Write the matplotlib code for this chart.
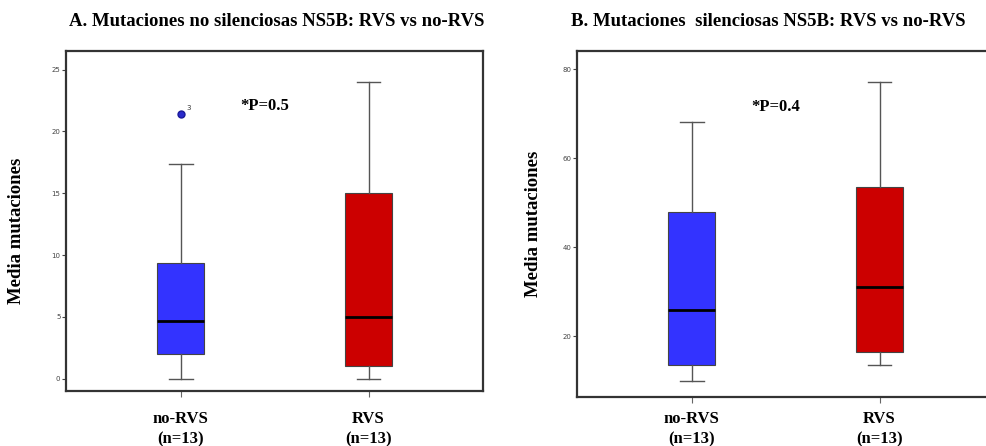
import matplotlib
matplotlib.use("Agg")
import matplotlib.pyplot as plt

# datos (mediana, cuartiles, bigotes)
grupos = ["no-RVS\n(n=13)", "RVS\n(n=13)"]
colores = ["#3333ff", "#cc0000"]

# A. mutaciones no silenciosas
a_whislo = [0.0, 0.0]
a_q1 = [2.0, 1.0]
a_med = [4.7, 5.0]
a_q3 = [9.35, 15.0]
a_whishi = [17.4, 24.0]
a_fliers = [[21.4], []]
a_flier_ids = [["3"], []]

# B. mutaciones silenciosas
b_whislo = [10.0, 13.5]
b_q1 = [13.4, 16.5]
b_med = [25.8, 31.0]
b_q3 = [48.0, 53.6]
b_whishi = [68.2, 77.1]
b_fliers = [[], []]
b_flier_ids = [[], []]

titulos = ["A. Mutaciones no silenciosas NS5B: RVS vs no-RVS",
           "B. Mutaciones  silenciosas NS5B: RVS vs no-RVS"]
pvalores = ["*P=0.5", "*P=0.4"]

serif = "Liberation Serif"

fig = plt.figure(figsize=[9.87, 4.46], dpi=100, facecolor="white")
ax1 = fig.add_axes([66/987, 1-391/446, 417/987, (391-51)/446])
ax2 = fig.add_axes([577/987, 1-397/446, 417/987, (397-51)/446])


def caja(ax, whislo, q1, med, q3, whishi, fliers, ids, ylim, yticks,
         titulo, pval, tx, xpad, ylab_xy):
    stats = []
    for i in range(2):
        stats.append(dict(whislo=whislo[i], q1=q1[i], med=med[i], q3=q3[i],
                          whishi=whishi[i], fliers=fliers[i]))
    bp = ax.bxp(stats, positions=[0, 1], widths=0.25, patch_artist=True,
                boxprops=dict(edgecolor="#444444", linewidth=0.8),
                medianprops=dict(color="black", linewidth=2),
                whiskerprops=dict(color="#555555", linewidth=1),
                capprops=dict(color="#555555", linewidth=1),
                capwidths=0.125,
                flierprops=dict(marker="o", markerfacecolor="#2a2acc",
                                markeredgecolor="#1a1a99", markersize=5))
    for b, c in zip(bp["boxes"], colores):
        b.set_facecolor(c)
    for i in range(2):
        for v, lab in zip(fliers[i], ids[i]):
            ax.annotate(lab, (i, v), xytext=(4, 3), textcoords="offset points",
                        fontsize=5, color="#333333")
    ax.set_xlim(-0.612, 1.61)
    ax.set_ylim(*ylim)
    ax.set_yticks(yticks)
    ax.set_xticks([0, 1])
    ax.set_xticklabels(grupos, fontsize=12, fontweight="bold", family=serif,
                       linespacing=1.35)
    ax.tick_params(axis="y", labelsize=5, labelcolor="#444444", length=3,
                   width=0.8, color="#444444", pad=1)
    ax.tick_params(axis="x", length=4, width=0.8, color="#666666", pad=xpad)
    for s in ax.spines.values():
        s.set_linewidth(1.6)
        s.set_color("#333333")
    ax.set_ylabel("Media mutaciones", fontsize=13.5, fontweight="bold",
                  family=serif)
    ax.yaxis.set_label_coords(*ylab_xy)
    ax.text(0.417, 0.837, pval, transform=ax.transAxes, fontsize=12,
            fontweight="bold", family=serif, va="center", ha="left")
    fig.text(tx, 1-22/446, titulo, fontsize=13.5, fontweight="bold",
             family=serif, ha="center", va="center")


caja(ax1, a_whislo, a_q1, a_med, a_q3, a_whishi, a_fliers, a_flier_ids,
     (-1.0, 26.5), [0, 5, 10, 15, 20, 25], titulos[0], pvalores[0], 277/987,
     10.5, (-0.098, 0.47))
caja(ax2, b_whislo, b_q1, b_med, b_q3, b_whishi, b_fliers, b_flier_ids,
     (6.3, 84.1), [20, 40, 60, 80], titulos[1], pvalores[1], 768/987,
     6.2, (-0.084, 0.5))

fig.savefig("out.png", dpi=100, facecolor="white")
